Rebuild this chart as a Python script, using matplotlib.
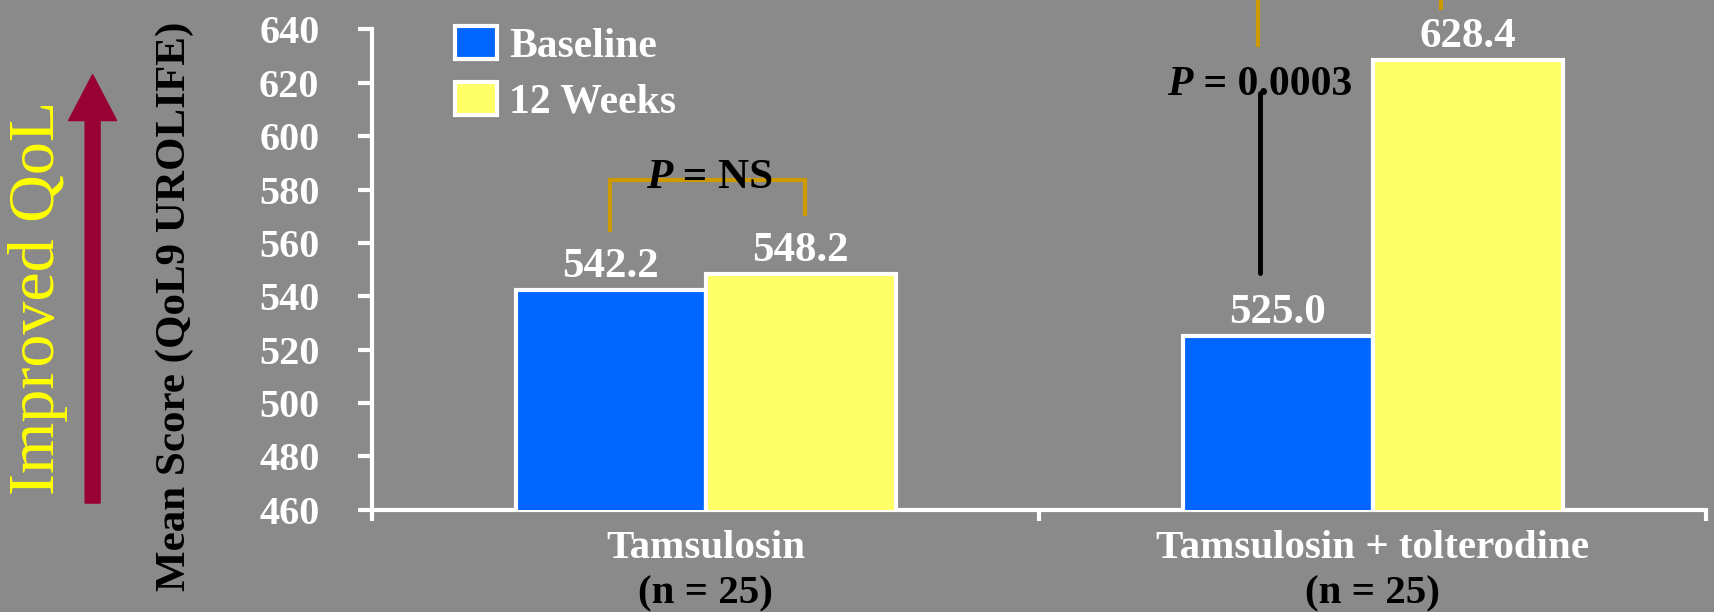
import matplotlib.pyplot as plt
from matplotlib.patches import FancyArrow

groups = ["Tamsulosin", "Tamsulosin + tolterodine"]
group_sizes = ["(n = 25)", "(n = 25)"]
series = ["Baseline", "12 Weeks"]
baseline = [542.2, 525.0]
week12 = [548.2, 628.4]
y_ticks = [460, 480, 500, 520, 540, 560, 580, 600, 620, 640]

BG = "#8a8a8a"
BLUE = "#0066ff"
YELLOW = "#ffff66"
GOLD = "#cc9900"
SERIF = ["Liberation Serif", "DejaVu Serif"]

plt.rcParams["font.family"] = SERIF

fig = plt.figure(figsize=(17.15, 6.12), dpi=100, facecolor=BG)
ax = fig.add_axes([0.217, 0.167, 0.778, 0.785], facecolor=BG)

w = 0.285
xs = list(range(len(groups)))
b1 = ax.bar([x - w / 2 for x in xs], baseline, w, bottom=0, color=BLUE,
            edgecolor="white", linewidth=3, label=series[0], zorder=3)
b2 = ax.bar([x + w / 2 for x in xs], week12, w, bottom=0, color=YELLOW,
            edgecolor="white", linewidth=3, label=series[1], zorder=3)

for bars, vals in ((b1, baseline), (b2, week12)):
    for rect, v in zip(bars, vals):
        ax.annotate(f"{v:.1f}", (rect.get_x() + rect.get_width() / 2, v),
                    xytext=(0, 3), textcoords="offset points",
                    ha="center", va="bottom", color="white",
                    fontsize=31, fontweight="bold")

ax.set_ylim(460, 640)
ax.set_xlim(-0.5, 1.5)
ax.set_yticks(y_ticks)
ax.set_yticklabels([str(t) for t in y_ticks], color="white",
                   fontsize=29, fontweight="bold")
ax.set_xticks([-0.5, 0.5, 1.5])
ax.set_xticklabels([])
ax.tick_params(axis="y", direction="out", length=10, width=3, color="white", pad=28)
ax.tick_params(axis="x", direction="out", length=8, width=3, color="white")
for s in ("top", "right"):
    ax.spines[s].set_visible(False)
for s in ("left", "bottom"):
    ax.spines[s].set_color("white")
    ax.spines[s].set_linewidth(3)

# category labels: name in white, group size in black
for x, name, n in zip(xs, groups, group_sizes):
    ax.text(x, -0.08, name, transform=ax.get_xaxis_transform(), ha="center",
            va="center", color="white", fontsize=29.5, fontweight="bold")
    ax.text(x, -0.175, n, transform=ax.get_xaxis_transform(), ha="center",
            va="center", color="black", fontsize=29.5, fontweight="bold")

# significance bracket, tamsulosin arm
xl, xr = -0.143, 0.149
ax.plot([xl, xl, xr, xr], [565, 583.5, 583.5, 571], color=GOLD, lw=3,
        solid_joinstyle="miter", zorder=4)
ax.text(-0.05, 584.5, "P", ha="right", va="center", fontsize=31,
        fontweight="bold", fontstyle="italic", color="black", zorder=5)
ax.text(-0.05, 584.5, " = NS", ha="left", va="center", fontsize=31,
        fontweight="bold", color="black", zorder=5)

# significance bracket, combination arm (runs above the plot area)
xl2, xr2 = 0.828, 1.102
ax.plot([xl2, xl2, xr2, xr2], [634, 700, 700, 648], color=GOLD, lw=3,
        clip_on=False, zorder=4)
ax.plot([0.831, 0.831], [548.6, 616], color="black", lw=3.5,
        solid_capstyle="round", zorder=4)
ax.text(0.73, 619, "P", ha="right", va="center", fontsize=30,
        fontweight="bold", fontstyle="italic", color="black", zorder=5)
ax.text(0.73, 619, " = 0.0003", ha="left", va="center", fontsize=30,
        fontweight="bold", color="black", zorder=5)

leg = ax.legend(loc="upper left", bbox_to_anchor=(0.034, 1.085), frameon=False,
                prop={"family": SERIF, "weight": "bold", "size": 30},
                labelcolor="white", handlelength=1.0, handleheight=0.85,
                handletextpad=0.3, labelspacing=0.38)

fig.text(0.102, 0.5, "Mean Score (QoL9 UROLIFE)", rotation=90, ha="center",
         va="center", color="black", fontsize=31, fontweight="bold")
fig.text(0.022, 0.514, "Improved QoL", rotation=90, ha="center", va="center",
         color="#ffff00", fontsize=47.5)

arrow = FancyArrow(0.054, 0.178, 0, 0.7, width=0.0087, head_width=0.028,
                   head_length=0.075, length_includes_head=True,
                   color="#990033", transform=fig.transFigure)
fig.patches.append(arrow)

fig.savefig("out.png", dpi=100, facecolor=BG)
